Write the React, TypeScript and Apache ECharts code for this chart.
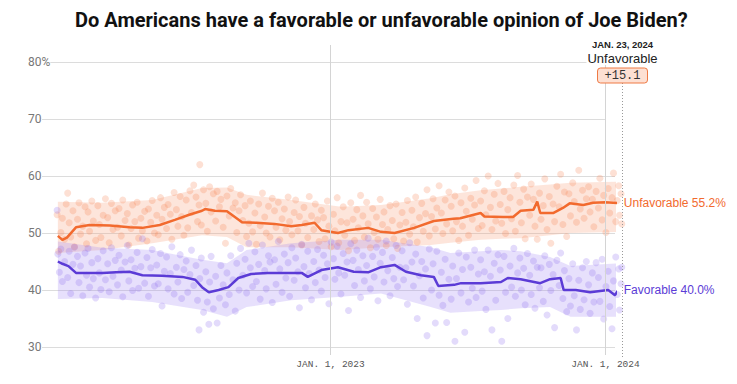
import React, { useEffect, useRef } from "react";
import * as echarts from "echarts";

const TITLE = "Do Americans have a favorable or unfavorable opinion of Joe Biden?";
const Y_TICKS = [30, 40, 50, 60, 70, 80];
const X_TICK_DATES = ["2023-01-01", "2024-01-01"];
const AXIS_START = "2021-12-16";
const AXIS_END = "2024-01-14";
const LAST_DATE = "2024-01-23";
const MARGIN_LABEL = "+15.1";

const unfavTrend: [string, number][] = [
  ["2022-01-06", 49.5], ["2022-01-12", 48.8], ["2022-01-18", 49.2], ["2022-01-30", 51.0], ["2022-02-17", 51.4],
  ["2022-03-16", 51.3], ["2022-04-11", 51.0], ["2022-04-28", 50.9], ["2022-05-21", 51.4], ["2022-06-10", 52.3],
  ["2022-06-29", 53.2], ["2022-07-16", 53.9], ["2022-07-20", 54.2], ["2022-08-02", 53.9], ["2022-08-18", 53.8],
  ["2022-09-07", 51.9], ["2022-09-26", 51.8], ["2022-10-20", 51.6], ["2022-11-11", 51.2], ["2022-11-25", 51.4],
  ["2022-12-12", 51.8], ["2022-12-21", 50.5], ["2023-01-12", 50.0], ["2023-01-26", 50.5], ["2023-02-21", 50.9],
  ["2023-03-10", 50.2], ["2023-03-28", 50.0], ["2023-04-23", 50.9], ["2023-05-19", 52.1], ["2023-06-14", 52.5],
  ["2023-06-23", 52.6], ["2023-07-20", 53.5], ["2023-07-25", 52.9], ["2023-08-19", 52.8], ["2023-09-01", 52.8],
  ["2023-09-11", 53.9], ["2023-09-28", 54.1], ["2023-10-03", 55.5], ["2023-10-07", 53.5], ["2023-10-24", 53.5],
  ["2023-11-06", 54.4], ["2023-11-15", 55.2], ["2023-12-03", 54.9], ["2023-12-16", 55.3], ["2024-01-01", 55.4],
  ["2024-01-23", 55.2],
];

const favTrend: [string, number][] = [
  ["2022-01-06", 45.0], ["2022-01-12", 44.6], ["2022-01-20", 44.2], ["2022-01-30", 43.0], ["2022-03-06", 43.0],
  ["2022-03-24", 43.1], ["2022-04-11", 43.2], ["2022-04-28", 42.6], ["2022-05-24", 42.5], ["2022-06-20", 42.3],
  ["2022-07-07", 41.8], ["2022-07-16", 40.5], ["2022-07-25", 39.6], ["2022-08-07", 40.0], ["2022-08-20", 40.5],
  ["2022-09-02", 42.1], ["2022-09-19", 42.8], ["2022-10-11", 43.0], ["2022-11-11", 43.0], ["2022-11-25", 43.0],
  ["2022-12-03", 42.3], ["2022-12-21", 43.5], ["2023-01-12", 44.0], ["2023-02-02", 43.2], ["2023-02-21", 43.1],
  ["2023-03-10", 44.0], ["2023-03-28", 44.4], ["2023-04-12", 43.2], ["2023-05-02", 42.6], ["2023-05-19", 42.3],
  ["2023-05-25", 40.7], ["2023-06-15", 40.9], ["2023-06-24", 41.2], ["2023-07-20", 41.2], ["2023-08-16", 41.4],
  ["2023-08-25", 42.1], ["2023-09-11", 41.9], ["2023-10-07", 41.2], ["2023-10-20", 41.9], ["2023-11-03", 42.1],
  ["2023-11-07", 40.0], ["2023-11-23", 40.0], ["2023-12-12", 39.6], ["2024-01-05", 40.0], ["2024-01-14", 39.1],
  ["2024-01-21", 40.5], ["2024-01-23", 40.0],
];

const bandDates = [
  "2022-01-06", "2022-03-06", "2022-05-11", "2022-07-16", "2022-08-18", "2022-09-13", "2022-11-11", "2023-01-16",
  "2023-03-10", "2023-05-15", "2023-06-10", "2023-07-20", "2023-08-16", "2023-09-11", "2023-10-20", "2023-11-16",
  "2024-01-23",
];
const unfavHigh = [55.5, 55.3, 55.8, 57.9, 58.0, 56.7, 55.8, 54.6, 54.9, 56.1, 56.8, 57.5, 57.8, 58.1, 58.5, 58.8, 59.0];
const unfavLow = [46.5, 47.0, 48.2, 49.6, 49.3, 47.5, 47.5, 47.0, 47.5, 47.9, 48.3, 48.8, 49.0, 49.1, 49.6, 50.0, 50.2];
const favHigh = [48.5, 47.4, 47.0, 45.3, 44.7, 47.0, 48.2, 48.8, 48.8, 47.5, 46.5, 46.8, 47.0, 46.8, 45.8, 44.2, 44.7];
const favLow = [38.4, 38.6, 37.9, 36.5, 35.3, 37.0, 38.2, 38.8, 39.4, 37.0, 36.0, 36.3, 36.5, 36.8, 37.0, 35.3, 35.3];

// [days since 2022-01-01, percent]
const unfavPolls: [number, number][] = [
  [4,53.2],[6,46.8],[9,50.1],[11,52.6],[14,48.9],[16,55.1],
  [18,57.0],[20,51.8],[22,49.3],[25,53.9],[27,47.6],
  [31,52.4],[33,55.3],[35,49.8],[38,51.2],[41,54.6],[43,48.1],
  [45,53.7],[47,50.3],[50,55.6],[52,52.1],[55,48.7],
  [58,54.8],[60,51.5],[62,49.2],[65,53.1],[68,56.0],
  [71,52.7],[73,48.3],[76,55.2],[78,50.6],[81,53.9],
  [84,51.0],[86,54.3],[89,49.5],[91,55.8],[94,52.2],
  [97,53.4],[99,47.9],[102,50.8],[104,54.9],[107,52.0],
  [110,55.4],[112,49.1],[115,52.6],[117,50.4],[120,53.8],
  [123,48.6],[125,54.2],[128,51.9],[130,55.7],[133,50.0],
  [136,53.1],[138,49.7],[141,56.2],[143,52.4],[146,54.5],
  [149,50.8],[151,55.0],[154,53.3],[156,48.9],[159,57.1],
  [162,54.1],[164,51.2],[167,56.4],[169,52.9],[172,49.6],
  [175,55.8],[177,50.9],[180,57.4],[182,53.6],[185,58.4],
  [188,56.3],[190,52.0],[192,54.9],[193,62.0],[195,51.4],[198,57.6],
  [201,55.2],[203,50.3],[206,58.1],[208,53.7],[211,56.9],
  [214,52.1],[216,57.3],[219,54.6],[221,55.9],[224,51.0],
  [227,48.2],[229,56.5],[232,53.0],[234,57.8],[237,54.4],
  [240,55.3],[242,50.1],[245,53.9],[247,56.7],[250,52.2],
  [253,54.8],[255,49.4],[258,51.7],[260,55.6],[263,50.2],
  [266,53.5],[268,48.0],[271,55.1],[273,51.3],[276,57.0],
  [279,52.8],[281,50.0],[284,54.7],[286,49.3],[289,56.1],
  [292,53.9],[294,51.0],[297,55.4],[299,48.8],[302,52.5],
  [305,54.2],[307,50.5],[310,56.3],[312,52.0],[315,49.7],
  [318,53.6],[320,55.8],[323,50.4],[325,52.9],[328,47.9],
  [331,54.5],[333,51.7],[336,49.2],[338,56.4],[341,53.0],
  [344,50.6],[346,55.1],[349,52.3],[351,48.5],[354,54.0],
  [357,52.7],[359,49.0],[362,55.6],[364,51.2],[367,47.6],
  [370,53.3],[372,50.4],[375,56.2],[377,48.3],[380,52.0],
  [383,54.6],[385,49.6],[388,51.8],[390,46.9],[393,55.3],
  [396,52.4],[398,48.7],[401,54.1],[403,50.9],[406,56.6],
  [409,53.0],[411,49.3],[414,55.4],[416,51.6],[419,47.4],
  [422,54.3],[424,50.1],[427,52.8],[429,48.9],[432,55.9],
  [435,51.5],[437,53.7],[440,47.8],[442,50.6],[445,54.8],
  [448,52.2],[450,49.0],[453,55.1],[455,47.3],[458,51.4],
  [461,53.6],[463,48.6],[466,51.9],[468,55.7],[471,49.8],
  [474,54.0],[476,51.1],[479,56.3],[481,48.4],[484,52.7],
  [487,55.2],[489,50.3],[492,53.4],[494,57.6],[497,49.5],
  [500,52.9],[502,56.0],[505,50.7],[507,54.4],[510,58.3],
  [513,53.5],[515,49.9],[518,55.8],[520,51.6],[523,57.2],
  [526,54.7],[528,50.4],[531,56.5],[533,52.0],[536,48.7],
  [539,55.3],[541,51.2],[544,57.9],[546,53.8],[549,49.6],
  [552,56.1],[554,52.4],[557,54.9],[559,59.2],[562,50.8],
  [565,55.6],[567,51.3],[570,57.4],[572,53.2],[575,60.0],
  [578,54.5],[580,50.6],[583,56.8],[585,52.1],[588,58.7],
  [591,55.0],[593,51.7],[596,57.3],[598,49.9],[601,54.1],
  [604,56.2],[606,52.5],[609,58.4],[611,50.3],[614,60.1],
  [617,55.4],[619,51.8],[622,57.7],[624,49.0],[627,56.3],
  [630,53.1],[632,58.6],[635,55.9],[637,51.2],[640,48.9],
  [643,57.0],[645,52.4],[648,54.8],[650,59.5],[653,50.6],
  [656,56.4],[658,48.2],[661,55.1],[663,52.0],[666,58.2],
  [669,54.6],[671,60.3],[674,51.5],[676,57.2],[679,49.4],
  [682,56.9],[684,53.0],[687,58.8],[689,55.5],[692,51.9],
  [695,61.0],[697,54.2],[700,57.5],[702,52.6],[705,56.0],
  [708,58.1],[710,53.7],[713,55.9],[715,51.1],[718,57.3],
  [721,54.4],[723,59.6],[726,52.3],[728,56.6],[731,50.1],
  [734,57.8],[736,53.5],[739,56.2],[741,60.5],[744,52.0],
  [746,55.7],[748,58.3],[749,53.1],[751,56.9],[752,51.6],
];

const favPolls: [number, number][] = [
  [4,54.0],[5,46.3],[7,43.1],[9,47.2],[11,41.5],[14,45.0],
  [18,42.2],[20,46.8],[22,39.4],[25,44.5],[27,47.5],
  [31,45.9],[33,41.3],[35,44.2],[38,39.0],[41,46.5],[43,42.6],
  [45,47.3],[47,40.5],[50,44.8],[52,42.0],[55,38.6],
  [58,45.5],[60,43.0],[62,40.1],[65,46.9],[68,41.8],
  [71,44.6],[73,39.7],[76,47.4],[78,42.4],[81,45.2],
  [84,40.9],[86,46.1],[89,43.5],[91,38.8],[94,44.9],
  [97,47.8],[99,41.6],[102,45.3],[104,39.9],[107,43.8],
  [110,46.6],[112,40.3],[115,44.1],[117,49.0],[120,41.2],
  [123,45.7],[125,38.9],[128,43.9],[130,47.1],[133,40.7],
  [136,44.4],[138,41.1],[141,46.4],[143,37.2],[146,43.3],
  [149,45.8],[151,40.2],[154,42.9],[156,47.6],[159,39.3],
  [162,44.0],[164,41.4],[167,46.2],[169,38.5],[172,43.6],
  [175,45.1],[177,39.6],[180,42.7],[182,47.0],[185,40.8],
  [188,44.3],[190,38.2],[192,33.0],[193,42.0],[195,45.6],[198,36.1],
  [201,43.2],[203,37.9],[205,34.0],[206,41.4],[208,45.9],[211,36.7],
  [214,42.4],[216,34.2],[219,38.6],[221,44.3],[224,40.9],
  [227,37.4],[229,43.0],[232,39.2],[234,46.0],[237,41.8],
  [240,36.3],[242,44.7],[245,40.0],[247,47.3],[250,42.6],
  [253,45.4],[255,39.5],[258,48.2],[260,43.9],[263,40.6],
  [266,46.7],[268,41.5],[271,44.5],[273,38.4],[276,47.9],
  [279,43.4],[281,40.2],[284,46.0],[286,44.9],[289,37.8],
  [292,45.3],[294,41.0],[297,48.5],[299,43.7],[302,39.6],
  [305,46.3],[307,42.1],[310,44.8],[312,38.9],[315,47.4],
  [318,41.7],[320,45.6],[323,43.2],[325,36.9],[328,48.0],
  [331,44.1],[333,40.4],[336,46.8],[338,42.9],[341,38.3],
  [344,45.0],[346,41.3],[349,47.1],[351,43.5],[354,39.8],
  [357,46.1],[359,42.2],[362,44.6],[364,37.6],[367,48.4],
  [370,45.5],[372,41.9],[375,47.7],[377,43.0],[380,39.3],
  [383,46.4],[385,42.6],[388,44.9],[390,36.4],[393,48.1],
  [396,45.2],[398,40.8],[401,47.0],[403,43.6],[406,38.7],
  [409,46.0],[411,41.6],[414,44.3],[416,49.1],[419,40.2],
  [422,45.9],[424,42.3],[427,47.5],[429,38.1],[432,44.7],
  [435,46.6],[437,41.4],[440,48.6],[442,43.4],[445,39.0],
  [448,45.7],[450,42.0],[453,47.8],[455,40.6],[458,44.0],
  [461,46.9],[463,41.8],[466,43.9],[468,37.5],[471,48.3],
  [474,44.9],[476,40.7],[479,46.3],[481,35.0],[484,42.5],
  [487,45.0],[489,38.6],[492,43.7],[494,32.0],[497,47.2],
  [500,40.0],[502,44.6],[505,34.2],[507,46.8],[510,39.1],
  [513,43.1],[515,37.3],[518,45.4],[520,34.3],[523,41.9],
  [526,38.4],[528,44.2],[531,31.0],[533,42.0],[536,46.5],
  [539,39.5],[541,43.6],[544,32.6],[546,45.8],[549,37.9],
  [552,44.0],[554,40.3],[557,47.0],[559,38.7],[562,42.8],
  [565,45.3],[567,39.8],[570,43.2],[572,36.6],[575,47.0],
  [578,42.4],[580,33.0],[583,44.7],[585,38.2],[588,46.2],
  [591,43.5],[593,31.0],[596,45.9],[598,39.6],[601,35.0],
  [604,44.2],[606,40.5],[609,47.3],[611,38.9],[614,43.0],
  [617,45.6],[619,40.0],[622,43.8],[624,37.4],[627,46.4],
  [630,42.6],[632,39.2],[635,45.1],[637,36.8],[640,44.0],
  [643,40.4],[645,43.9],[648,38.0],[650,46.0],[653,35.6],
  [656,44.5],[658,39.9],[661,42.7],[663,33.4],[666,45.2],
  [669,40.8],[671,46.5],[674,38.5],[676,43.4],[679,36.2],
  [682,42.0],[684,37.2],[687,44.6],[689,39.0],[692,33.0],
  [695,41.7],[697,36.6],[700,43.9],[702,38.3],[705,45.0],
  [708,40.9],[710,35.9],[713,43.0],[715,37.9],[718,44.8],
  [721,42.2],[723,38.0],[726,45.4],[728,34.9],[731,40.6],
  [734,43.3],[736,37.1],[739,33.2],[741,41.6],[744,45.8],
  [746,39.2],[748,43.7],[749,36.5],[751,41.1],[752,44.0],
];

const ORANGE = "#f26a2e";
const PURPLE = "#5b3bd6";
const DAY = 86400000;
const MONTHS = ["JAN.", "FEB.", "MAR.", "APR.", "MAY", "JUN.", "JUL.", "AUG.", "SEP.", "OCT.", "NOV.", "DEC."];

const toTs = (s: string) => {
  const [y, m, d] = s.split("-").map(Number);
  return Date.UTC(y, m - 1, d);
};
const pollTs = (d: number) => Date.UTC(2022, 0, 1) + d * DAY;
const fmtDate = (t: number) => {
  const d = new Date(t);
  return `${MONTHS[d.getUTCMonth()]} ${d.getUTCDate()}, ${d.getUTCFullYear()}`;
};

export default function App() {
  const ref = useRef<HTMLDivElement>(null);

  useEffect(() => {
    document.body.style.margin = "0";
    if (!ref.current) return;
    const chart = echarts.init(ref.current, undefined, { renderer: "svg" });

    const bandBase = (low: number[]) => bandDates.map((d, i) => [toTs(d), low[i]]);
    const bandDiff = (low: number[], high: number[]) => bandDates.map((d, i) => [toTs(d), +(high[i] - low[i]).toFixed(2)]);

    const option: any = {
      animation: false,
      useUTC: true,
      title: {
        text: TITLE,
        left: 70,
        top: 5,
        textStyle: {
          fontFamily: '"Liberation Sans Narrow", "Roboto", sans-serif',
          fontWeight: "bold",
          fontSize: 20,
          color: "#111",
        },
      },
      grid: { left: 42, right: 122, top: 62, bottom: 37 },
      xAxis: {
        type: "time",
        min: toTs(AXIS_START),
        max: toTs(AXIS_END),
        axisLine: { show: false },
        axisTick: { show: false },
        splitLine: { show: false },
        axisLabel: { show: false },
      },
      yAxis: {
        type: "value",
        min: Y_TICKS[0],
        max: Y_TICKS[Y_TICKS.length - 1],
        interval: 10,
        axisLine: { show: false },
        axisTick: { show: false },
        splitLine: { lineStyle: { color: "#dcdcdc", width: 1 } },
        axisLabel: {
          align: "left",
          margin: 14,
          formatter: (v: number) => (v === 80 ? "80%" : String(v)),
          fontFamily: '"Liberation Sans Narrow", "Roboto", sans-serif',
          fontSize: 12,
          color: "#777",
          backgroundColor: "#fff",
        },
      },
      series: [
        {
          type: "line", data: bandBase(unfavLow), stack: "u", symbol: "none", silent: true, clip: false,
          lineStyle: { opacity: 0 }, z: 1,
        },
        {
          type: "line", data: bandDiff(unfavLow, unfavHigh), stack: "u", symbol: "none", silent: true, clip: false,
          lineStyle: { opacity: 0 }, areaStyle: { color: "rgba(248,150,110,0.25)", opacity: 1 }, z: 1,
        },
        {
          type: "line", data: bandBase(favLow), stack: "f", symbol: "none", silent: true, clip: false,
          lineStyle: { opacity: 0 }, z: 1,
        },
        {
          type: "line", data: bandDiff(favLow, favHigh), stack: "f", symbol: "none", silent: true, clip: false,
          lineStyle: { opacity: 0 }, areaStyle: { color: "rgba(160,130,245,0.25)", opacity: 1 }, z: 1,
        },
        {
          type: "scatter", data: unfavPolls.map(([d, v]) => [pollTs(d), v]), symbolSize: 7, clip: false, z: 2,
          itemStyle: { color: "rgba(245,125,75,0.3)" },
        },
        {
          type: "scatter", data: favPolls.map(([d, v]) => [pollTs(d), v]), symbolSize: 7, clip: false, z: 2,
          itemStyle: { color: "rgba(140,105,240,0.3)" },
        },
        {
          type: "line", data: unfavTrend.map(([d, v]) => [toTs(d), v]), symbol: "none", clip: false, z: 3,
          lineStyle: { color: ORANGE, width: 2.5 },
        },
        {
          type: "line", data: favTrend.map(([d, v]) => [toTs(d), v]), symbol: "none", clip: false, z: 3,
          lineStyle: { color: PURPLE, width: 2.5 },
        },
      ],
    };
    chart.setOption(option);

    const px = (t: number, v: number) => chart.convertToPixel({ gridIndex: 0 }, [t, v]) as number[];
    const lastU = unfavTrend[unfavTrend.length - 1][1];
    const lastF = favTrend[favTrend.length - 1][1];
    const endT = toTs(LAST_DATE);
    const pU = px(endT, lastU);
    const pF = px(endT, lastF);
    const tickTs = X_TICK_DATES.map(toTs);
    const x23 = Math.round(px(tickTs[0], 50)[0]) + 0.5;
    const x24 = Math.round(px(tickTs[1], 50)[0]) + 0.5;
    const xe = Math.round(pU[0]) + 0.5;
    const y80 = px(endT, 80)[1];
    const y70 = px(endT, 70)[1];
    const y30 = px(endT, 30)[1];

    const xLabels = tickTs.map((t, i) => ({
      type: "text", silent: true, z: 7, x: i === 0 ? x23 : x24, y: y30 + 17,
      style: {
        text: fmtDate(t), align: "center", verticalAlign: "middle",
        font: '9.5px "Liberation Mono", "DejaVu Sans Mono", monospace', fill: "#555",
      },
    }));

    chart.setOption({
      graphic: [
        { type: "line", silent: true, z: 5, shape: { x1: x23, y1: y80 - 17, x2: x23, y2: y30 + 8 }, style: { stroke: "#d4d4d4", lineWidth: 1 } },
        { type: "line", silent: true, z: 5, shape: { x1: x24, y1: y80, x2: x24, y2: y30 + 8 }, style: { stroke: "#d4d4d4", lineWidth: 1 } },
        { type: "rect", silent: true, z: 4, shape: { x: x24 + 0.5, y: y70 - 2, width: Math.max(0, xe - x24 - 7), height: 4 }, style: { fill: "#fff" } },
        { type: "line", silent: true, z: 5, shape: { x1: xe, y1: y80 + 21, x2: xe, y2: y30 + 12 }, style: { stroke: "#999", lineWidth: 1, lineDash: [1, 2] } },
        { type: "rect", silent: true, z: 6, shape: { x: xe - 36, y: y80 - 10, width: 72, height: 13 }, style: { fill: "#fff" } },
        {
          type: "text", silent: true, z: 7, x: xe, y: y80 - 18,
          style: { text: fmtDate(endT), align: "center", verticalAlign: "middle", font: 'bold 9.5px "Liberation Sans", Arial, sans-serif', fill: "#222" },
        },
        {
          type: "text", silent: true, z: 7, x: xe, y: y80 - 4,
          style: { text: "Unfavorable", align: "center", verticalAlign: "middle", font: '13px "Liberation Sans", Arial, sans-serif', fill: "#222" },
        },
        {
          type: "rect", silent: true, z: 7, shape: { x: xe - 25, y: y80 + 6, width: 50, height: 15, r: 3 },
          style: { fill: "#fde0d3", stroke: "#ef7a45", lineWidth: 1 },
        },
        {
          type: "text", silent: true, z: 8, x: xe, y: y80 + 13.5,
          style: { text: MARGIN_LABEL, align: "center", verticalAlign: "middle", font: '12px "Liberation Mono", "DejaVu Sans Mono", monospace', fill: "#333" },
        },
        {
          type: "text", silent: true, z: 7, x: pU[0] + 2, y: pU[1],
          style: { text: `Unfavorable ${lastU.toFixed(1)}%`, align: "left", verticalAlign: "middle", font: '12px "Liberation Sans", Arial, sans-serif', fill: ORANGE },
        },
        {
          type: "text", silent: true, z: 7, x: pF[0] + 2, y: pF[1],
          style: { text: `Favorable ${lastF.toFixed(1)}%`, align: "left", verticalAlign: "middle", font: '12px "Liberation Sans", Arial, sans-serif', fill: PURPLE },
        },
        ...xLabels,
      ],
    });

    return () => chart.dispose();
  }, []);

  return <div ref={ref} style={{ width: 737, height: 384 }} />;
}
